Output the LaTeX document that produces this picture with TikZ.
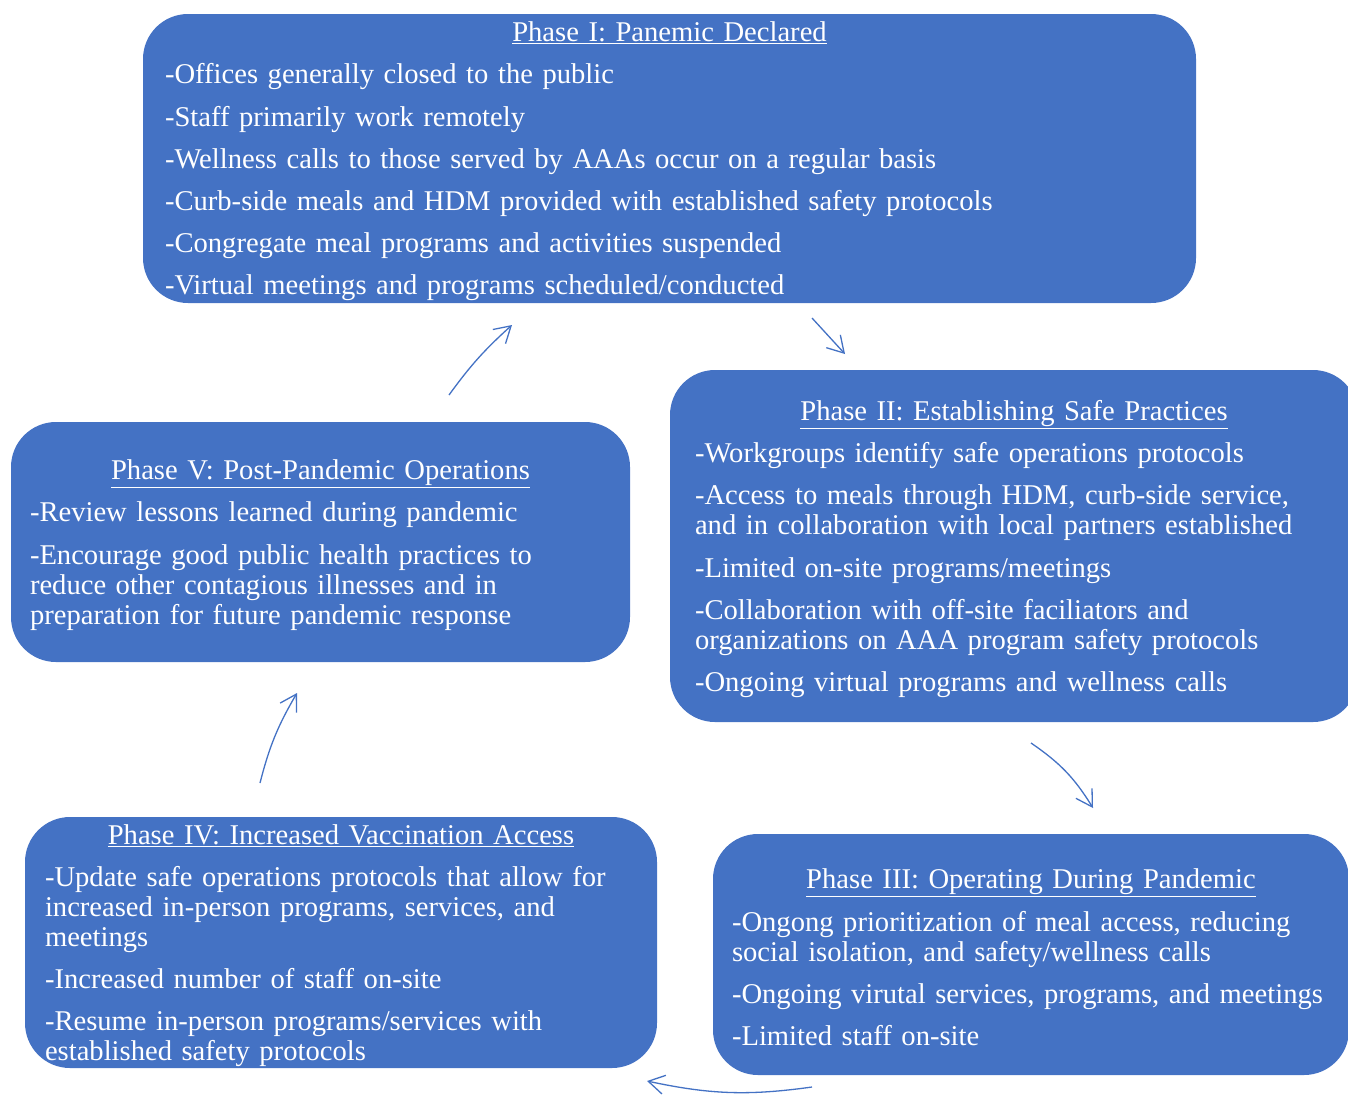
\documentclass[tikz,border=0pt]{standalone}
\usepackage{fontspec}
\setmainfont{Liberation Serif}
\usetikzlibrary{arrows.meta}
\definecolor{phaseblue}{HTML}{4472C4}
\newcommand{\phasetitle}[1]{{\centering\underline{#1}\par}}
\newcommand{\phaseend}{\par\vspace{-6pt}}
\newcommand{\phasefont}{\fontsize{28.6}{30}\selectfont\setlength{\parskip}{12.2pt}\setlength{\parindent}{0pt}\hyphenpenalty=10000\relax}

\begin{document}
\begin{tikzpicture}[x=1pt,y=-1pt,
  phase/.style={fill=phaseblue,text=white,rounded corners=45pt,inner xsep=0pt,inner ysep=0pt,
    align=left,font=\phasefont,execute at end node=\phaseend},
  flow/.style={draw=phaseblue,line width=1.3pt,-{Straight Barb[length=16pt,width=19pt]}}]
\useasboundingbox (0,0) rectangle (1348,1101);

\node[phase,minimum width=1053pt,minimum height=289pt,text width=1009pt] (phaseI) at (669.5,158.5) {
\phasetitle{Phase I: Panemic Declared}
-Offices generally closed to the public\par
-Staff primarily work remotely\par
-Wellness calls to those served by AAAs occur on a regular basis\par
-Curb-side meals and HDM provided with established safety protocols\par
-Congregate meal programs and activities suspended\par
-Virtual meetings and programs scheduled/conducted};

\node[phase,minimum width=688pt,minimum height=352pt,text width=638pt] (phaseII) at (1014,546) {
\phasetitle{Phase II: Establishing Safe Practices}
-Workgroups identify safe operations protocols\par
-Access to meals through HDM, curb-side service,\\ and in collaboration with local partners established\par
-Limited on-site programs/meetings\par
-Collaboration with off-site faciliators and\\ organizations on AAA program safety protocols\par
-Ongoing virtual programs and wellness calls};

\node[phase,minimum width=636pt,minimum height=241pt,text width=598pt] (phaseIII) at (1031,954.5) {
\phasetitle{Phase III: Operating During Pandemic}
-Ongong prioritization of meal access, reducing\\ social isolation, and safety/wellness calls\par
-Ongoing virutal services, programs, and meetings\par
-Limited staff on-site};

\node[phase,minimum width=632pt,minimum height=251pt,text width=592pt] (phaseIV) at (341,942.5) {
\phasetitle{Phase IV: Increased Vaccination Access}
-Update safe operations protocols that allow for\\ increased in-person programs, services, and\\ meetings\par
-Increased number of staff on-site\par
-Resume in-person programs/services with\\ established safety protocols};

\node[phase,minimum width=619pt,minimum height=240pt,text width=581pt] (phaseV) at (320.5,542) {
\phasetitle{Phase V: Post-Pandemic Operations}
-Review lessons learned during pandemic\par
-Encourage good public health practices to\\ reduce other contagious illnesses and in\\ preparation for future pandemic response};

% arrows between the phases
\coordinate (outI) at (812,318);
\coordinate (inII) at (845,354);
\coordinate (outII) at (1031,743);
\coordinate (inIII) at (1093,808);
\coordinate (outIII) at (812,1087);
\coordinate (inIV) at (647,1081);
\coordinate (outIV) at (260,783);
\coordinate (inV) at (297,693);
\coordinate (outV) at (449,395);
\coordinate (inI) at (512,325);

\draw[flow] (outI) -- (inII);
\draw[flow] (outII) to[bend left=12] (inIII);
\draw[flow] (outIII) to[bend left=10] (inIV);
\draw[flow] (outIV) to[bend left=8] (inV);
\draw[flow] (outV) to[bend left=6] (inI);
\end{tikzpicture}
\end{document}
